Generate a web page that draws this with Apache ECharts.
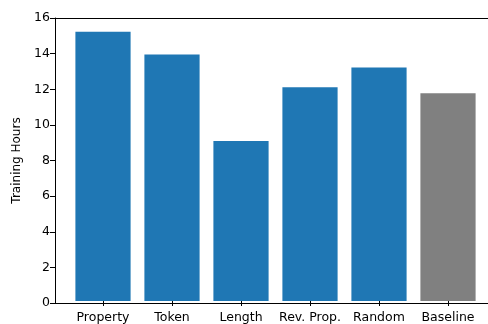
<!DOCTYPE html>
<html>
<head>
<meta charset="utf-8">
<script src="https://cdn.jsdelivr.net/npm/echarts@6/dist/echarts.min.js"></script>
<style>
  html, body { margin: 0; padding: 0; background: #fff; }
  #chart { width: 488px; height: 324px; }
</style>
</head>
<body>
<div id="chart"></div>
<script>
// Training time per method
const categories = ['Property', 'Token', 'Length', 'Rev. Prop.', 'Random', 'Baseline'];
const hours = [15.22, 13.93, 9.04, 12.08, 13.2, 11.74];
const barColors = ['#1f77b4', '#1f77b4', '#1f77b4', '#1f77b4', '#1f77b4', '#808080'];
const yTicks = { min: 0, max: 16, step: 2 };

const FONT = 'DejaVu Sans';
const chart = echarts.init(document.getElementById('chart'), null, { renderer: 'canvas' });

const hidden = { show: false };

chart.setOption({
  animation: false,
  backgroundColor: '#fff',
  grid: [
    // outer frame: spines and the y scale
    { left: 55, right: -7, top: 18, bottom: 21 },
    // inner band area holding the bars; the bars run under the bottom spine
    { left: 68.5, right: 5.5, top: 18, bottom: 20 }
  ],
  xAxis: [
    {
      gridIndex: 0, type: 'value', min: 0, max: 1, position: 'bottom', z: 10,
      axisLine: { show: true, lineStyle: { color: '#000', width: 1 } },
      axisTick: hidden, axisLabel: hidden, splitLine: hidden
    },
    {
      gridIndex: 0, type: 'value', min: 0, max: 1, position: 'top', z: 10,
      axisLine: { show: true, lineStyle: { color: '#000', width: 1 } },
      axisTick: hidden, axisLabel: hidden, splitLine: hidden
    },
    {
      gridIndex: 1, type: 'category', data: categories, position: 'bottom',
      axisLine: hidden,
      axisTick: { show: true, alignWithLabel: true, length: 5, lineStyle: { color: '#000', width: 1 } },
      axisLabel: { color: '#000', fontFamily: FONT, fontSize: 12.5, margin: 10, interval: 0 },
      splitLine: hidden
    }
  ],
  yAxis: [
    {
      gridIndex: 0, type: 'value', min: yTicks.min, max: yTicks.max, interval: yTicks.step, z: 10,
      axisLine: { show: true, lineStyle: { color: '#000', width: 1 } },
      axisTick: { show: true, length: 5, lineStyle: { color: '#000', width: 1 } },
      axisLabel: { color: '#000', fontFamily: FONT, fontSize: 12.5, margin: 5 },
      splitLine: hidden,
      name: 'Training Hours', nameLocation: 'middle', nameGap: 31,
      nameTextStyle: { color: '#000', fontFamily: FONT, fontSize: 12 }
    },
    {
      gridIndex: 1, type: 'value', min: yTicks.min, max: yTicks.max,
      show: false
    }
  ],
  series: [{
    type: 'bar',
    xAxisIndex: 2,
    yAxisIndex: 1,
    z: 2,
    barWidth: '80%',
    itemStyle: { borderWidth: 0 },
    data: hours.map((v, i) => ({ value: v, itemStyle: { color: barColors[i] } }))
  }]
});
</script>
</body>
</html>
